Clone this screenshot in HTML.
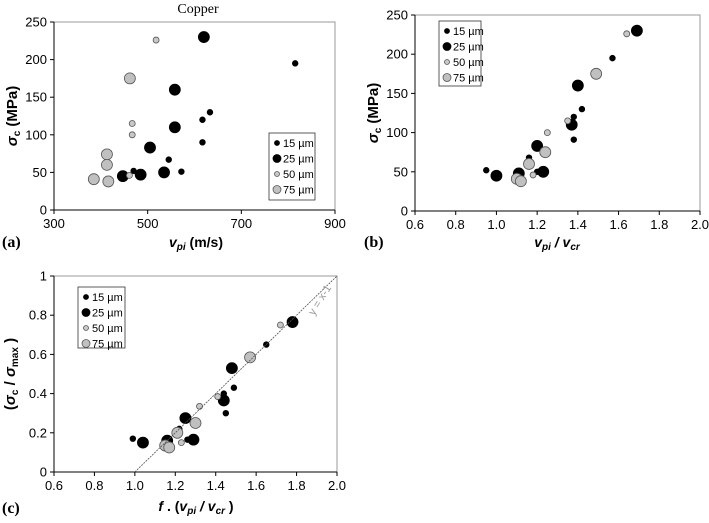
<!DOCTYPE html>
<html><head><meta charset="utf-8"><style>
body{margin:0;background:#fff;width:709px;height:518px;overflow:hidden}
#s text{font-family:"Liberation Sans",sans-serif}
.serif{font-family:"Liberation Serif",serif}
.sans{font-family:"Liberation Sans",sans-serif}
</style></head><body>
<svg id="s" width="709" height="518" xmlns="http://www.w3.org/2000/svg"></svg>
<script>
const NS="http://www.w3.org/2000/svg";
const svg=document.getElementById('s');
// Data
const groups=["15 µm","25 µm","50 µm","75 µm"];
const aX15=[470,545,572,617,617,633,815], aY15=[52,67,51,120,90,130,195];
const aX25=[447,485,505,535,558,558,620], aY25=[45,47,83,50,160,110,230];
const aX50=[518,467,467,461], aY50=[226,115,100,46];
const aX75=[462,413,413,385,416], aY75=[175,74,60,41,38];
const bX15=[0.95,1.16,1.20,1.38,1.38,1.42,1.57], bY15=[52,68,50,120,91,130,195];
const bX25=[1.0,1.11,1.20,1.23,1.40,1.37,1.69], bY25=[45,48,83,50,160,110,230];
const bX50=[1.64,1.35,1.25,1.18], bY50=[226,115,100,46];
const bX75=[1.49,1.24,1.16,1.10,1.12], bY75=[175,75,60,41,38];
const cX15=[0.99,1.22,1.26,1.44,1.45,1.49,1.65], cY15=[0.17,0.22,0.165,0.40,0.30,0.43,0.65];
const cX25=[1.04,1.16,1.25,1.29,1.44,1.48,1.78], cY25=[0.15,0.16,0.275,0.165,0.365,0.53,0.765];
const cX50=[1.72,1.32,1.41,1.23], cY50=[0.75,0.335,0.385,0.15];
const cX75=[1.57,1.30,1.21,1.15,1.17], cY75=[0.585,0.25,0.20,0.135,0.125];
const aXt=["300","500","700","900"], aYt=["0","50","100","150","200","250"];
const bXt=["0.6","0.8","1.0","1.2","1.4","1.6","1.8","2.0"];
const cYt=["0","0.2","0.4","0.6","0.8","1"];

function el(t,a,p){const e=document.createElementNS(NS,t);for(const k in a)e.setAttribute(k,a[k]);(p||svg).appendChild(e);return e;}
function txt(x,y,s,a,p){const e=el('text',Object.assign({x:x,y:y},a),p);e.innerHTML=s;return e;}
const styles=[{r:2.8,f:'#000',s:'#000'},{r:5.5,f:'#000',s:'#000'},{r:3,f:'#c8c8c8',s:'#555'},{r:5.5,f:'#c0c0c0',s:'#555'}];

function chart(name,px0,px1,py0,py1,xmin,xmax,ymin,ymax,xt,yt,series,leg){
  const g=el('g',{}),sx=v=>px0+(v-xmin)/(xmax-xmin)*(px1-px0),sy=v=>py0-(v-ymin)/(ymax-ymin)*(py0-py1);
  
  
  el('rect',{x:px0,y:py1,width:px1-px0,height:py0-py1,fill:'none',stroke:'#999','stroke-width':1},g);
  el('line',{x1:px0,y1:py1,x2:px0,y2:py0+4,stroke:'#000'},g);
  el('line',{x1:px0,y1:py0,x2:px1,y2:py0,stroke:'#000'},g);
  xt.forEach(t=>{const x=sx(+t);el('line',{x1:x,y1:py0,x2:x,y2:py0+4,stroke:'#000'},g);
    const e=txt(x,py0+18,t,{'text-anchor':'middle','font-size':13},g);});
  yt.forEach(t=>{const y=sy(+t);el('line',{x1:px0-4,y1:y,x2:px0,y2:y,stroke:'#000'},g);
    const e=txt(px0-7,y+4.5,t,{'text-anchor':'end','font-size':13},g);});
  series.forEach((sr,i)=>{const st=styles[i];sr[0].forEach((xv,j)=>{
    const c=el('circle',{cx:sx(xv),cy:sy(sr[1][j]),r:st.r,fill:st.f,stroke:st.s,'stroke-width':0.8},g);
    
    });});
  const lg=el('g',{},g);
  
  
  el('rect',{x:leg[0],y:leg[1],width:leg[2],height:leg[3],fill:'#fff',stroke:'#333','stroke-width':0.8},lg);
  groups.forEach((gname,i)=>{const st=styles[i],y=leg[1]+10+i*15.5;
    el('circle',{cx:leg[0]+8,cy:y,r:i%2?4:2.5,fill:st.f,stroke:st.s,'stroke-width':0.8},lg);
    const e=txt(leg[0]+14,y+4,gname,{'font-size':11},lg);});
  return {g,sx,sy};
}
const A=chart('chart-a',54,335,210,22,300,900,0,250,aXt,aYt,[[aX15,aY15],[aX25,aY25],[aX50,aY50],[aX75,aY75]],[269,133,46,67]);
const B=chart('chart-b',415,700,211,15,0.6,2.0,0,250,bXt,aYt,[[bX15,bY15],[bX25,bY25],[bX50,bY50],[bX75,bY75]],[439,21,42,65]);
const C=chart('chart-c',54,337,472,276,0.6,2.0,0,1,bXt,cYt,[[cX15,cY15],[cX25,cY25],[cX50,cY50],[cX75,cY75]],[78,287,47,61]);
// y=x-1 line in chart c
const ln=el('line',{x1:C.sx(1.0),y1:C.sy(0),x2:C.sx(2.0),y2:C.sy(1),stroke:'#555','stroke-width':0.8,'stroke-dasharray':'2,1'},C.g);


const rl=txt(0,0,'y = x-1',{'font-size':11,fill:'#999',transform:'translate(314,316) rotate(-58)'},C.g);


</script>
<svg width="709" height="518" style="position:absolute;left:0;top:0" xmlns="http://www.w3.org/2000/svg">
<text class="serif" x="198" y="13" text-anchor="middle" font-size="14">Copper</text>
<text class="serif" x="2" y="247" font-weight="bold" font-size="16">(a)</text>
<text class="serif" x="364" y="247" font-weight="bold" font-size="16">(b)</text>
<text class="serif" x="2" y="513" font-weight="bold" font-size="16">(c)</text>
<text class="sans" x="196" y="247" text-anchor="middle" font-weight="bold" font-size="14"><tspan font-style="italic">v</tspan><tspan font-style="italic" font-size="10" dy="3">pi</tspan><tspan dy="-3"> (m/s)</tspan></text>
<text class="sans" x="557" y="247" text-anchor="middle" font-weight="bold" font-size="14"><tspan font-style="italic">v</tspan><tspan font-style="italic" font-size="10" dy="3">pi</tspan><tspan dy="-3" font-style="italic"> / v</tspan><tspan font-style="italic" font-size="10" dy="3">cr</tspan></text>
<text class="sans" x="196" y="511" text-anchor="middle" font-weight="bold" font-size="14"><tspan font-style="italic">f</tspan> . (<tspan font-style="italic">v</tspan><tspan font-style="italic" font-size="10" dy="3">pi</tspan><tspan dy="-3" font-style="italic"> / v</tspan><tspan font-style="italic" font-size="10" dy="3">cr</tspan><tspan dy="-3"> )</tspan></text>
<text class="sans" transform="translate(17,116) rotate(-90)" text-anchor="middle" font-weight="bold" font-size="15"><tspan font-style="italic">σ</tspan><tspan font-size="10" dy="3">c</tspan><tspan dy="-3">  (MPa)</tspan></text>
<text class="sans" transform="translate(378,113) rotate(-90)" text-anchor="middle" font-weight="bold" font-size="15"><tspan font-style="italic">σ</tspan><tspan font-size="10" dy="3">c</tspan><tspan dy="-3">  (MPa)</tspan></text>
<text class="sans" transform="translate(15,374) rotate(-90)" text-anchor="middle" font-weight="bold" font-size="15">(<tspan font-style="italic">σ</tspan><tspan font-size="10" dy="3">c</tspan><tspan dy="-3"> / </tspan><tspan font-style="italic">σ</tspan><tspan font-size="10" dy="3">max</tspan><tspan dy="-3"> )</tspan></text>
</svg>
</body></html>
